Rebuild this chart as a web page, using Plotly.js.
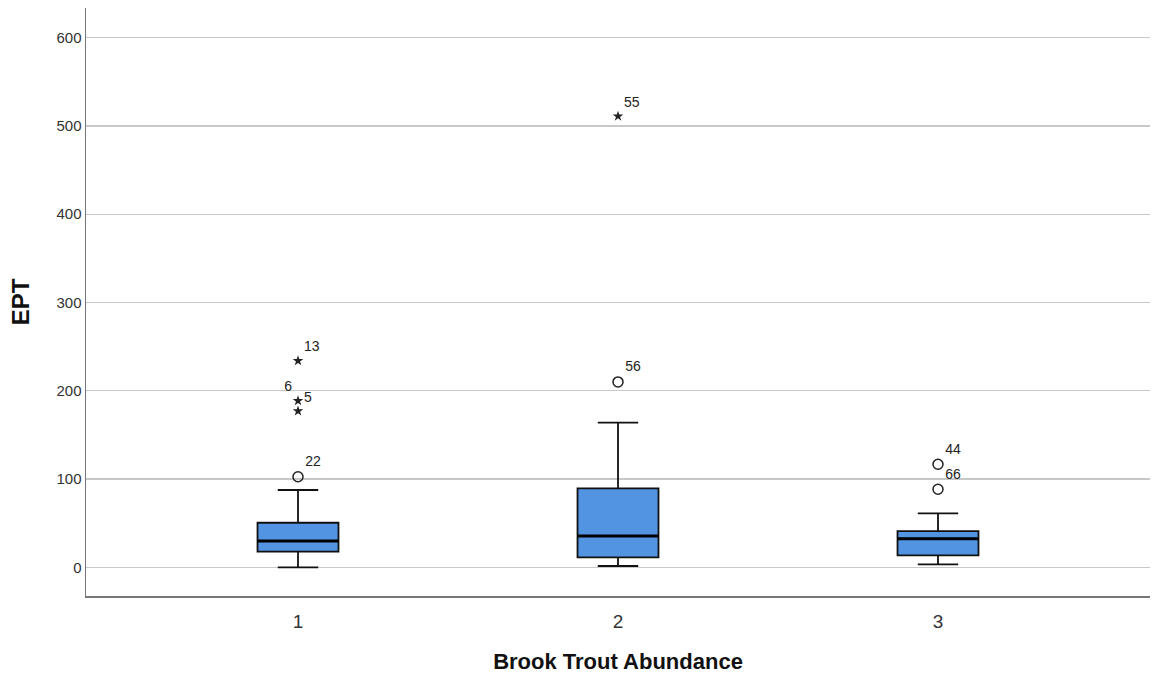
<!DOCTYPE html>
<html>
<head>
<meta charset="utf-8">
<script src="https://cdn.plot.ly/plotly-3.0.1.min.js"></script>
<style>html,body{margin:0;padding:0;background:#fff;}#chart{width:1155px;height:679px;}</style>
</head>
<body>
<div id="chart"></div>
<script>
// Categories
const groups = [1, 2, 3];
const tickLabels = ['1', '2', '3'];
// Box statistics per group
const lowerFence = [0, 1.5, 3.4];
const q1 = [17.7, 11.3, 13.6];
const median = [29.8, 35.5, 32.4];
const q3 = [50.5, 89.4, 41.1];
const upperFence = [87.6, 163.8, 61.2];
// Outliers (circles)
const outX = [1, 2, 3, 3];
const outY = [102.6, 210, 116.7, 88.4];
const outLabels = ['22', '56', '44', '66'];
// Extreme values (stars)
const extX = [1, 1, 1, 2];
const extY = [234, 188.7, 177, 511];
const extLabels = ['13', '6', '5', '55'];
const extLabelPos = ['top right', 'top left', 'top right', 'top right'];

const BOXW = 0.253;
const FONT = 'Liberation Sans, Arial, sans-serif';

const medX = [], medY = [];
groups.forEach((g, i) => {
  medX.push(g - BOXW / 2, g + BOXW / 2, null);
  medY.push(median[i], median[i], null);
});

const traces = [
  {
    type: 'box',
    x: groups,
    q1: q1, median: median, q3: q3,
    lowerfence: lowerFence, upperfence: upperFence,
    width: BOXW,
    whiskerwidth: 0.5,
    fillcolor: '#5294E2',
    line: {color: '#111', width: 1.8},
    boxpoints: false,
    hoverinfo: 'skip',
    showlegend: false
  },
  {
    type: 'scatter', mode: 'lines',
    x: medX, y: medY,
    line: {color: '#000', width: 3},
    hoverinfo: 'skip', showlegend: false
  },
  {
    type: 'scatter', mode: 'markers+text',
    x: outX, y: outY, text: outLabels,
    textposition: 'top right',
    textfont: {family: FONT, size: 14, color: '#222'},
    marker: {symbol: 'circle-open', size: 10, color: '#222', line: {width: 1.5, color: '#222'}},
    showlegend: false
  },
  {
    type: 'scatter', mode: 'markers+text',
    x: extX, y: extY, text: extLabels,
    textposition: extLabelPos,
    textfont: {family: FONT, size: 14, color: '#222'},
    marker: {symbol: 'star', size: 8, color: '#222'},
    showlegend: false
  }
];

const layout = {
  width: 1155, height: 679,
  margin: {l: 86, r: 5, t: 8, b: 83},
  paper_bgcolor: '#fff', plot_bgcolor: '#fff',
  font: {family: FONT, color: '#222'},
  showlegend: false,
  xaxis: {
    range: [0.3375, 3.6625],
    tickmode: 'array', tickvals: groups, ticktext: tickLabels,
    tickfont: {family: FONT, size: 19, color: '#333'},
    ticklabelstandoff: 8,
    showgrid: false, zeroline: false,
    showline: true, linecolor: '#777', linewidth: 1.5,
    ticks: '',
    title: {text: '<b>Brook Trout Abundance</b>', font: {family: FONT, size: 22, color: '#111'}, standoff: 22}
  },
  yaxis: {
    range: [-32.5, 633.6],
    tickmode: 'array', tickvals: [0, 100, 200, 300, 400, 500, 600],
    tickfont: {family: FONT, size: 15, color: '#333'},
    showgrid: true, gridcolor: '#c8c8c8', gridwidth: 1.3,
    zeroline: false,
    showline: true, linecolor: '#777', linewidth: 1.5,
    ticks: '',
    title: {text: '<b>EPT</b>', font: {family: FONT, size: 24, color: '#111'}, standoff: 20}
  }
};

Plotly.newPlot('chart', traces, layout, {displayModeBar: false, staticPlot: true});
</script>
</body>
</html>
